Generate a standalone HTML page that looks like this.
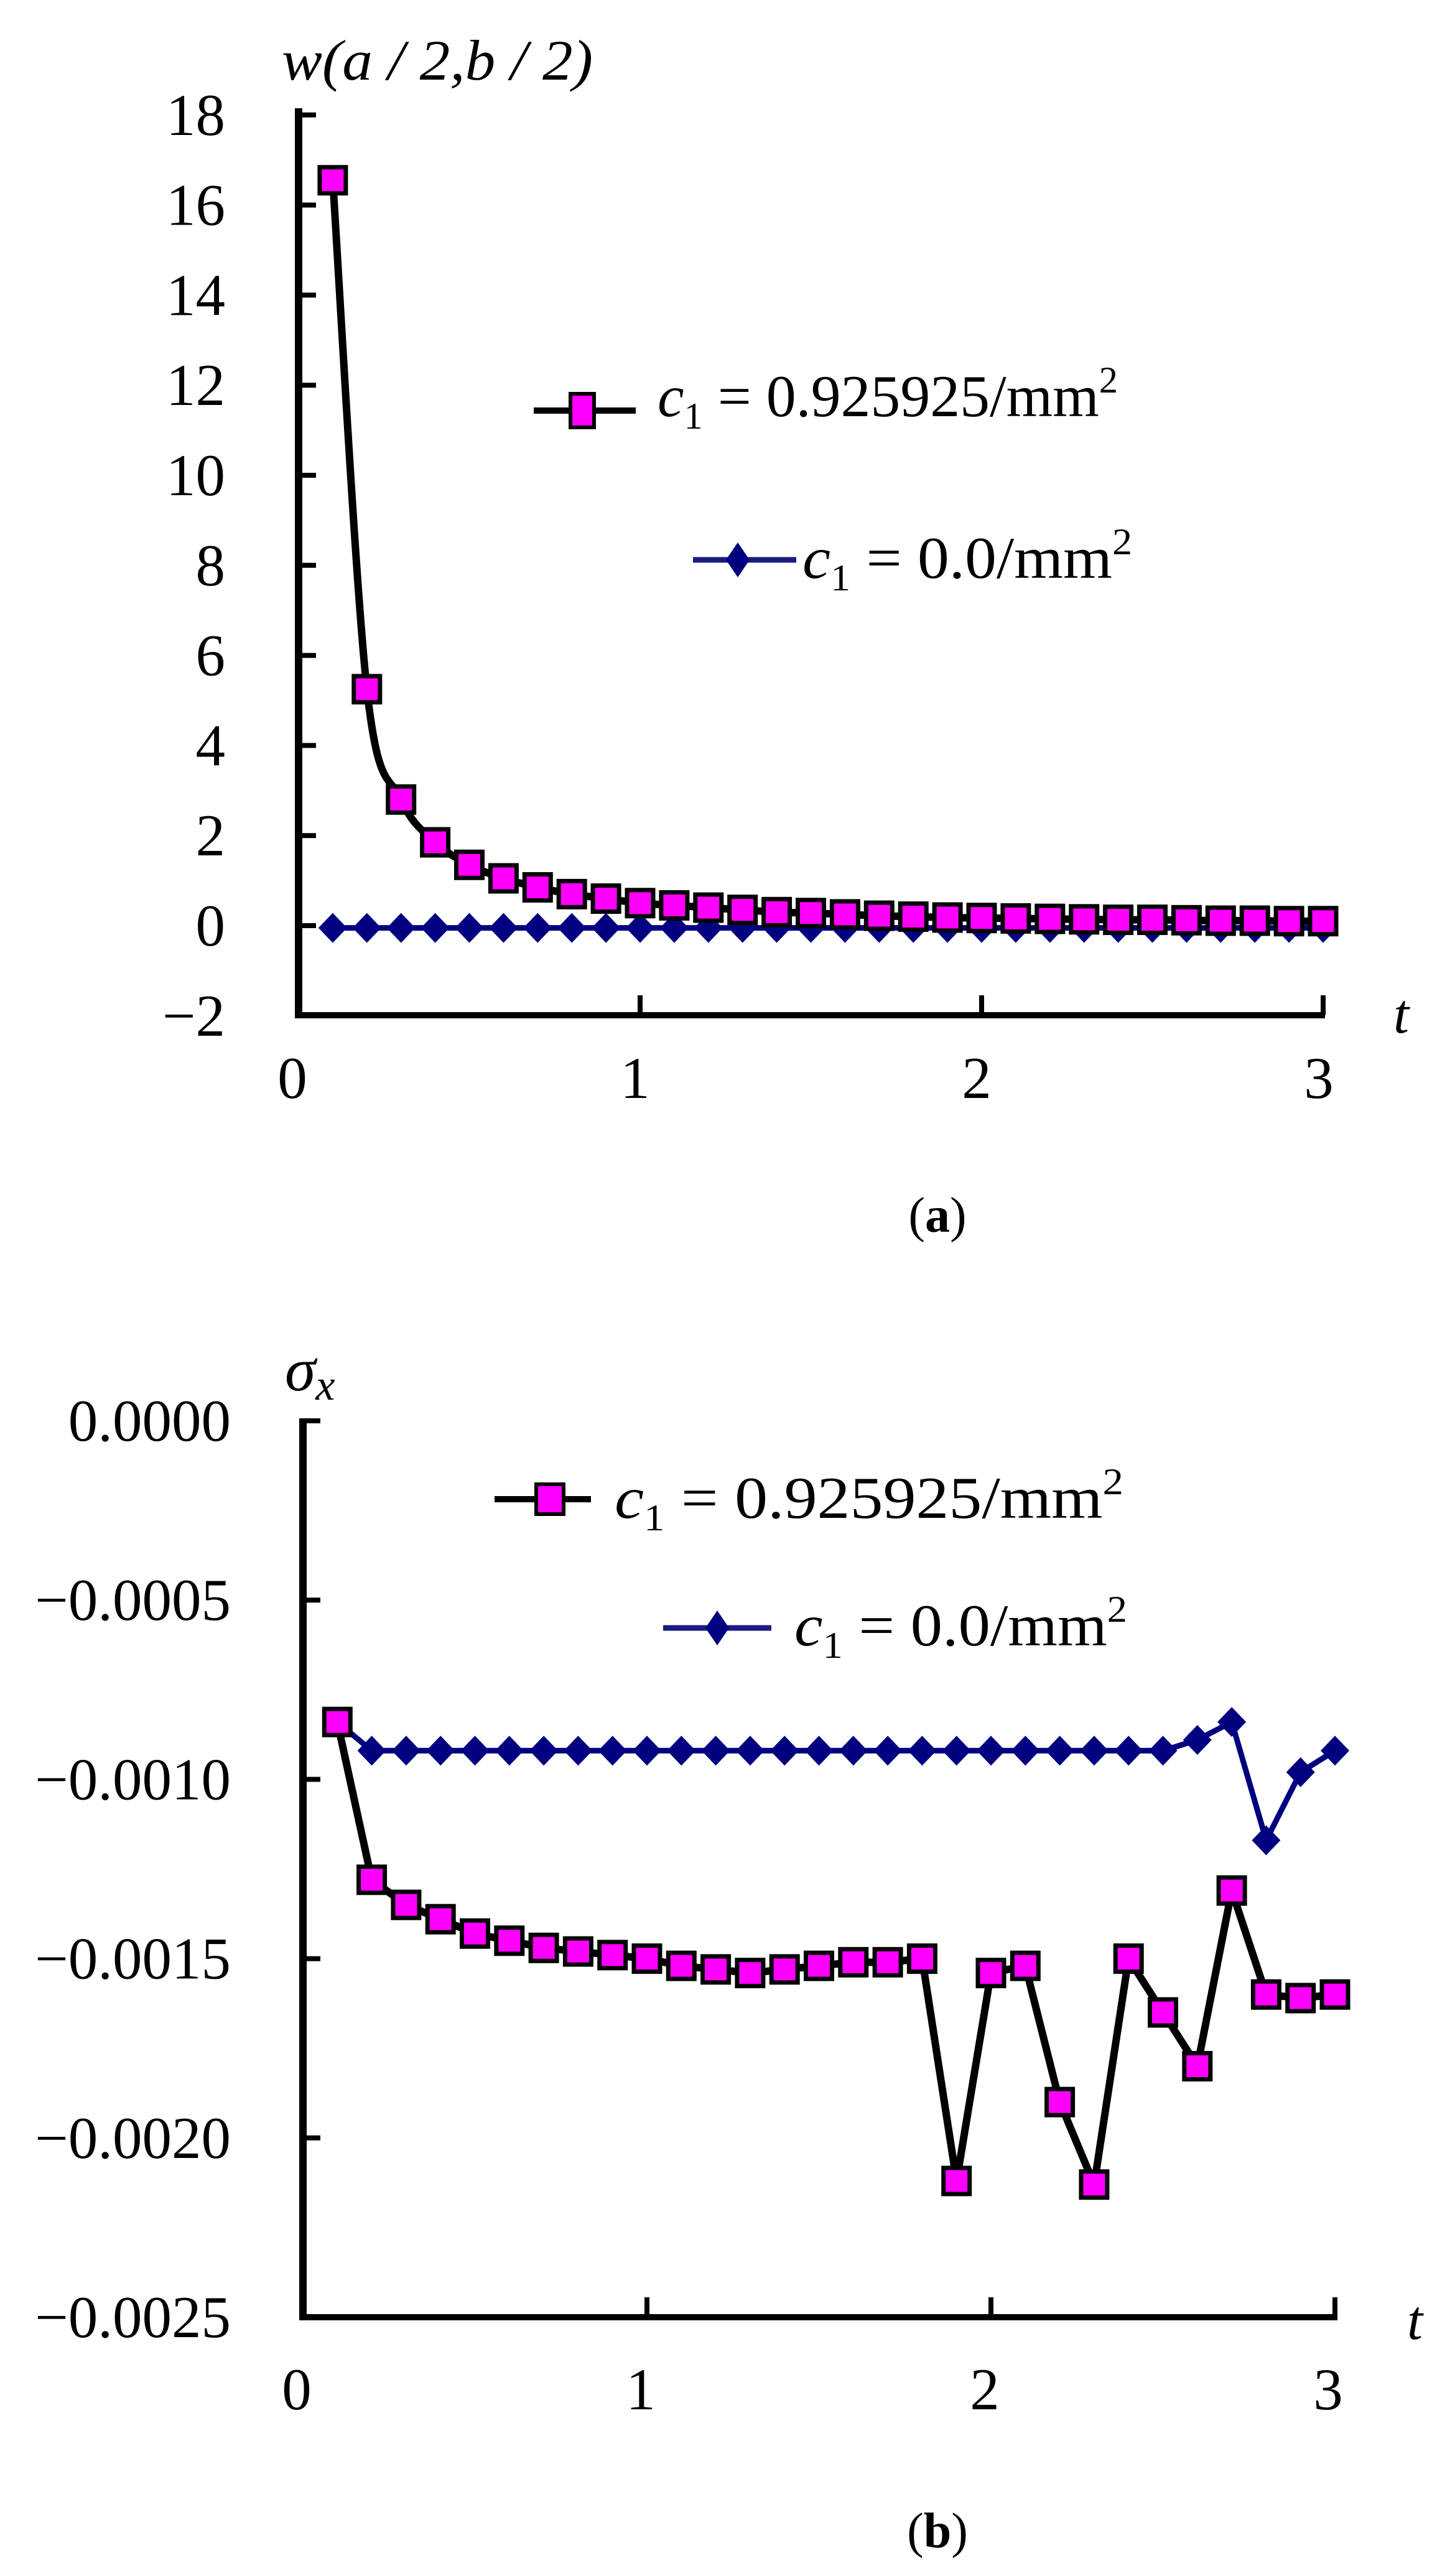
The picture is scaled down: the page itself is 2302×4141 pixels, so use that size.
<!DOCTYPE html>
<html><head><meta charset="utf-8"><style>
html,body{margin:0;padding:0;background:#fff;}
svg{display:block;}
text{font-family:"Liberation Serif",serif;fill:#000;}
</style></head><body>
<svg id="s" width="2302" height="4141" viewBox="0 0 2302 4141" xmlns="http://www.w3.org/2000/svg">
<!-- Panel a -->
<text x="453" y="128" font-size="92" font-style="italic" textLength="500" lengthAdjust="spacingAndGlyphs">w(a / 2,b / 2)</text>
<g font-size="95" text-anchor="end" id="ya"></g>
<line x1="480" y1="174" x2="480" y2="1636" stroke="#000" stroke-width="12"/>
<line x1="474" y1="1632" x2="2130" y2="1632" stroke="#000" stroke-width="10"/>
<g id="ticka"></g>
<g font-size="95" text-anchor="middle">
<text x="470" y="1765">0</text><text x="1021" y="1765">1</text><text x="1570" y="1765">2</text><text x="2120" y="1765">3</text>
</g>
<text x="2240" y="1660" font-size="90" font-style="italic">t</text>
<g id="sera"></g>
<!-- legend a -->
<line x1="858" y1="660" x2="1022" y2="660" stroke="#000" stroke-width="10"/>
<rect x="917" y="633" width="38" height="54" fill="#ff00ff" stroke="#000" stroke-width="6"/>
<text x="1057" y="669" font-size="95" textLength="740" lengthAdjust="spacingAndGlyphs"><tspan font-style="italic">c</tspan><tspan font-size="60" dy="20">1</tspan><tspan dy="-20"> = 0.925925/mm</tspan><tspan font-size="60" dy="-38">2</tspan></text>
<line x1="1114" y1="900" x2="1280" y2="900" stroke="#1a1a80" stroke-width="9"/>
<polygon points="1186,872 1205,900 1186,928 1167,900" fill="#000080"/>
<text x="1290" y="929" font-size="95" textLength="530" lengthAdjust="spacingAndGlyphs"><tspan font-style="italic">c</tspan><tspan font-size="60" dy="20">1</tspan><tspan dy="-20"> = 0.0/mm</tspan><tspan font-size="60" dy="-38">2</tspan></text>
<text x="1507" y="1980" font-size="80" text-anchor="middle">(<tspan font-weight="bold">a</tspan>)</text>

<!-- Panel b -->
<text x="458" y="2235" font-size="100" font-style="italic">σ<tspan font-size="70" dy="15">x</tspan></text>
<g font-size="95" text-anchor="end" id="yb"></g>
<line x1="487" y1="2280" x2="487" y2="3730" stroke="#000" stroke-width="12"/>
<line x1="481" y1="3725" x2="2150" y2="3725" stroke="#000" stroke-width="10"/>
<g id="tickb"></g>
<g font-size="95" text-anchor="middle">
<text x="477" y="3873">0</text><text x="1030" y="3873">1</text><text x="1583" y="3873">2</text><text x="2135" y="3873">3</text>
</g>
<text x="2262" y="3760" font-size="90" font-style="italic">t</text>
<g id="serb"></g>
<line x1="795" y1="2410" x2="950" y2="2410" stroke="#000" stroke-width="10"/>
<rect x="862" y="2386" width="44" height="48" fill="#ff00ff" stroke="#000" stroke-width="6"/>
<text x="988" y="2440" font-size="95" textLength="818" lengthAdjust="spacingAndGlyphs"><tspan font-style="italic">c</tspan><tspan font-size="60" dy="20">1</tspan><tspan dy="-20"> = 0.925925/mm</tspan><tspan font-size="60" dy="-38">2</tspan></text>
<line x1="1066" y1="2617" x2="1240" y2="2617" stroke="#1a1a80" stroke-width="9"/>
<polygon points="1153,2589 1172,2617 1153,2645 1134,2617" fill="#000080"/>
<text x="1277" y="2645" font-size="95" textLength="535" lengthAdjust="spacingAndGlyphs"><tspan font-style="italic">c</tspan><tspan font-size="60" dy="20">1</tspan><tspan dy="-20"> = 0.0/mm</tspan><tspan font-size="60" dy="-38">2</tspan></text>
<text x="1507" y="4095" font-size="80" text-anchor="middle">(<tspan font-weight="bold">b</tspan>)</text>
</svg>
<script>
var NS="http://www.w3.org/2000/svg";
function el(p,t,a,txt){var e=document.createElementNS(NS,t);for(var k in a)e.setAttribute(k,a[k]);if(txt!==undefined)e.textContent=txt;document.getElementById(p).appendChild(e);return e;}
function dia(g,p){el(g,"polygon",{points:(p[0])+","+(p[1]-24)+" "+(p[0]+23)+","+p[1]+" "+p[0]+","+(p[1]+24)+" "+(p[0]-23)+","+p[1],fill:"#000080"});}
function sq(g,p){el(g,"rect",{x:p[0]-21,y:p[1]-21,width:42,height:42,fill:"#ff00ff",stroke:"#000","stroke-width":7});}
// panel a
function xa(t){return 480+549*t;} function ya(v){return 1488-72.4*v;}
for(var v=-2;v<=18;v+=2){var lab=v<0?"\u2212"+(-v):""+v;el("ya","text",{x:362,y:ya(v)+32},lab);if(v>-2)el("ticka","line",{x1:480,y1:ya(v),x2:508,y2:ya(v),stroke:"#000","stroke-width":8});}
for(var t=1;t<=3;t++)el("ticka","line",{x1:xa(t),y1:1632,x2:xa(t),y2:1600,stroke:"#000","stroke-width":8});
var pa=[16.55,5.25,2.8,1.85,1.35,1.05,0.85,0.7,0.6,0.5,0.45,0.4,0.35,0.3,0.28,0.25,0.22,0.2,0.18,0.17,0.16,0.15,0.14,0.13,0.13,0.12,0.11,0.11,0.1,0.1];
var ptsA=[],ptsB=[];
for(var i=0;i<30;i++){var t=0.1*(i+1);ptsA.push([xa(t),ya(pa[i])]);ptsB.push([xa(t),ya(-0.05)]);}
function smooth(p){var d="M"+p[0][0]+","+p[0][1];for(var i=0;i<p.length-1;i++){var p0=p[i>0?i-1:i],p1=p[i],p2=p[i+1],p3=p[i+2<p.length?i+2:i+1];var c1x=p1[0]+(p2[0]-p0[0])/6,c1y=p1[1]+(p2[1]-p0[1])/6,c2x=p2[0]-(p3[0]-p1[0])/6,c2y=p2[1]-(p3[1]-p1[1])/6;d+=" C"+c1x+","+c1y+" "+c2x+","+c2y+" "+p2[0]+","+p2[1];}return d;}
el("sera","path",{d:smooth(ptsB),fill:"none",stroke:"#000080","stroke-width":9});
ptsB.forEach(function(p){dia("sera",p);});
el("sera","path",{d:smooth(ptsA),fill:"none",stroke:"#000","stroke-width":12});
ptsA.forEach(function(p){sq("sera",p);});
// panel b
function xb(t){return 487+553*t;} function yb(v){return 2284-(v/0.0005)*288.2;}
var labs=["0.0000","\u22120.0005","\u22120.0010","\u22120.0015","\u22120.0020","\u22120.0025"];
for(var i=0;i<6;i++){var v=-0.0005*i;el("yb","text",{x:371,y:yb(v)+32},labs[i]);if(i<5)el("tickb","line",{x1:487,y1:yb(v),x2:515,y2:yb(v),stroke:"#000","stroke-width":8});}
for(var t=1;t<=3;t++)el("tickb","line",{x1:xb(t),y1:3725,x2:xb(t),y2:3693,stroke:"#000","stroke-width":8});
var pb=[-0.00084,-0.00128,-0.00135,-0.00139,-0.00143,-0.00145,-0.00147,-0.00148,-0.00149,-0.0015,-0.00152,-0.00153,-0.00154,-0.00153,-0.00152,-0.00151,-0.00151,-0.0015,-0.00212,-0.00154,-0.00152,-0.0019,-0.00213,-0.0015,-0.00165,-0.0018,-0.00131,-0.0016,-0.00161,-0.0016];
var bb=[];for(var i=0;i<30;i++)bb.push(-0.00092);bb[0]=-0.00084;bb[25]=-0.00089;bb[26]=-0.00084;bb[27]=-0.00117;bb[28]=-0.00098;bb[29]=-0.00092;
var qA=[],qB=[];for(var i=0;i<30;i++){var t=0.1*(i+1);qA.push([xb(t),yb(pb[i])]);qB.push([xb(t),yb(bb[i])]);}
el("serb","polyline",{points:qB.map(function(p){return p.join(",")}).join(" "),fill:"none",stroke:"#000080","stroke-width":9,"stroke-linejoin":"round"});
qB.forEach(function(p){dia("serb",p);});
el("serb","polyline",{points:qA.map(function(p){return p.join(",")}).join(" "),fill:"none",stroke:"#000","stroke-width":12,"stroke-linejoin":"round"});
qA.forEach(function(p){sq("serb",p);});
</script>
</body></html>
